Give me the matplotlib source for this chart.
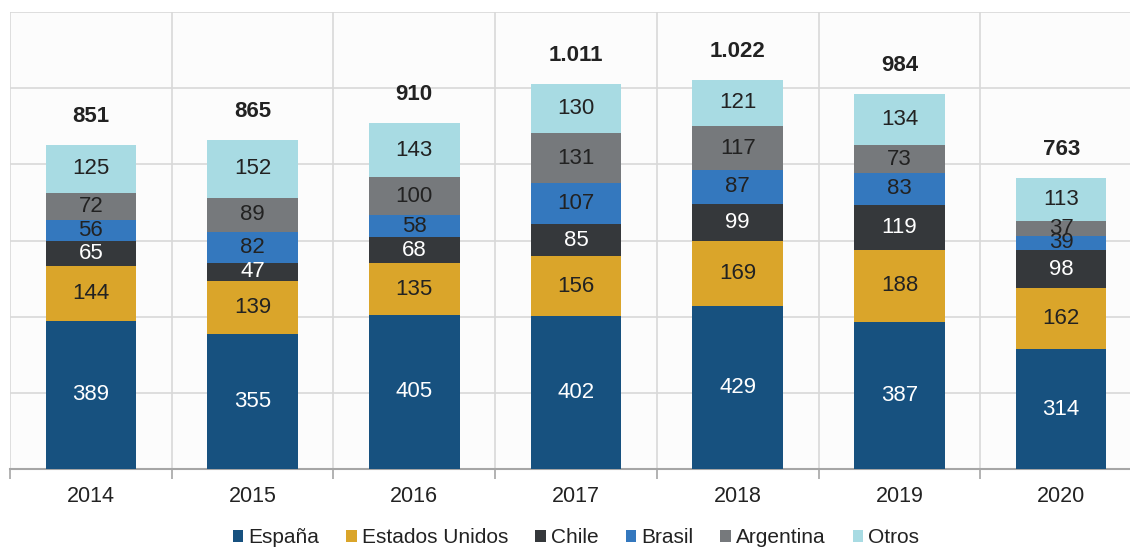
import numpy as np
import matplotlib.pyplot as plt

# data
years = ['2014', '2015', '2016', '2017', '2018', '2019', '2020']
series = ['España', 'Estados Unidos', 'Chile', 'Brasil', 'Argentina', 'Otros']
espana = [389, 355, 405, 402, 429, 387, 314]
eeuu = [144, 139, 135, 156, 169, 188, 162]
chile = [65, 47, 68, 85, 99, 119, 98]
brasil = [56, 82, 58, 107, 87, 83, 39]
argentina = [72, 89, 100, 131, 117, 73, 37]
otros = [125, 152, 143, 130, 121, 134, 113]
totals = [851, 865, 910, 1011, 1022, 984, 763]

colors = ['#17517f', '#daa52a', '#35383b', '#3478be', '#76797c', '#a8dbe3']
txtcol = ['white', '#222222', 'white', '#222222', '#222222', '#222222']

plt.rcParams['font.family'] = ['Liberation Sans', 'DejaVu Sans']

fig = plt.figure(figsize=(11.3, 5.47), dpi=100)
ax = fig.add_axes([10/1130, 78/547, 1132/1130, 457/547])
ax.set_facecolor('#fcfcfc')

x = np.arange(len(years))
data = [espana, eeuu, chile, brasil, argentina, otros]
bottom = np.zeros(len(years))
for vals, name, c, tc in zip(data, series, colors, txtcol):
    vals = np.array(vals)
    ax.bar(x, vals, 0.56, bottom=bottom, color=c, label=name, zorder=3)
    for xi, b, v in zip(x, bottom, vals):
        ax.text(xi, b + v/2, str(v), ha='center', va='center',
                fontsize=16, color=tc, zorder=4)
    bottom += vals

for xi, top, t in zip(x, bottom, totals):
    ax.annotate(f'{t:,}'.replace(',', '.'), (xi, top), xytext=(0, 20.5),
                textcoords='offset points', ha='center', va='center',
                fontsize=16, fontweight='bold', color='#222222')

ax.set_xlim(-0.5, len(years) - 0.5)
ax.set_ylim(0, 1200)
ax.set_yticks(np.arange(0, 1201, 200))
ax.set_yticklabels([])
ax.tick_params(axis='y', length=0)
ax.set_xticks(x)
ax.set_xticklabels(years, fontsize=15.5, color='#222222')
ax.set_xticks(np.arange(-0.5, len(years), 1), minor=True)
ax.tick_params(axis='x', which='major', length=0, pad=12)
ax.tick_params(axis='x', which='minor', length=7, color='#a6a6a6', width=1.2)
ax.grid(axis='y', color='#d9d9d9', lw=1.2, zorder=0)
ax.grid(axis='x', which='minor', color='#d9d9d9', lw=1.2, zorder=0)
ax.grid(axis='x', which='major', visible=False)
for s in ['top', 'right', 'left']:
    ax.spines[s].set_visible(False)
ax.spines['bottom'].set_color('#a6a6a6')
ax.spines['bottom'].set_linewidth(1.5)

ax.legend(loc='center', bbox_to_anchor=(0.5, -0.15), ncol=6, frameon=False,
          fontsize=15, handlelength=0.5, handleheight=0.5,
          handletextpad=0.25, columnspacing=1.3, labelcolor='#222222')

plt.savefig('out.png')
